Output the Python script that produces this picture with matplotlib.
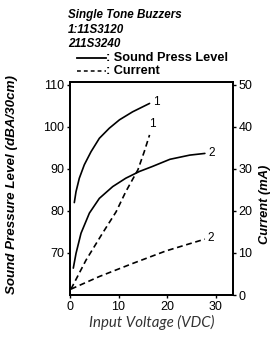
import matplotlib
matplotlib.use("Agg")
import matplotlib.pyplot as plt
from matplotlib.lines import Line2D

# data
spl1_v = [0.89, 1.24, 1.92, 2.95, 4.33, 6.05, 8.1, 10.2, 12.9, 16.4]
spl1_db = [82.0, 84.6, 87.8, 91.0, 94.1, 97.3, 99.7, 101.7, 103.6, 105.6]
spl2_v = [0.68, 1.24, 2.27, 4.0, 6.05, 8.8, 11.5, 14.3, 17.0, 20.6, 24.7, 27.8]
spl2_db = [66.4, 69.9, 74.7, 79.5, 83.0, 85.8, 87.8, 89.4, 90.6, 92.3, 93.3, 93.7]
cur1_v = [0.2, 3.3, 6.7, 9.5, 11.5, 14.0, 15.3, 16.4]
cur1_ma = [1.4, 8.3, 14.7, 19.8, 24.6, 29.8, 34.1, 38.1]
cur2_v = [0.2, 6.05, 12.9, 19.8, 27.8]
cur2_ma = [1.4, 4.4, 7.5, 10.5, 13.3]
x_ticks = [0, 10, 20, 30]
spl_ticks = [70, 80, 90, 100, 110]
cur_ticks = [0, 10, 20, 30, 40, 50]

W, H = 276, 337
fig = plt.figure(figsize=(W / 100, H / 100), dpi=100)
fam = ["Liberation Sans", "DejaVu Sans"]
plt.rcParams["font.family"] = fam

def px(x, y):
    return x / W, 1 - y / H

l, b = px(70, 295)
r, t = px(233, 82)
ax = fig.add_axes([l, b, r - l, t - b])
ax2 = ax.twinx()

lw = 1.2
ax.plot(spl1_v, spl1_db, color="black", lw=lw, solid_capstyle="round", solid_joinstyle="round")
ax.plot(spl2_v, spl2_db, color="black", lw=lw, solid_capstyle="round", solid_joinstyle="round")
ax2.plot(cur1_v, cur1_ma, color="black", lw=lw, dashes=(3.5, 2.2))
ax2.plot(cur2_v, cur2_ma, color="black", lw=lw, dashes=(3.5, 2.2))

ax.text(17.2, 106.0, "1", fontsize=8.5, ha="left", va="center")
ax.text(28.5, 93.9, "2", fontsize=8.5, ha="left", va="center")
ax2.text(16.9, 40.8, "1", fontsize=8.5, ha="center", va="center")
ax2.text(28.3, 13.6, "2", fontsize=8.5, ha="left", va="center")

ax.set_xlim(0, 33.6)
ax.set_ylim(60, 110.7)
ax2.set_ylim(0, 50.7)
ax.set_xticks(x_ticks)
ax.set_xticklabels([str(v) for v in x_ticks])
ax.set_yticks(spl_ticks)
ax.set_yticklabels([str(v) for v in spl_ticks])
ax2.set_yticks(cur_ticks)
ax2.set_yticklabels([str(v) for v in cur_ticks])

for a in (ax, ax2):
    for s in a.spines.values():
        s.set_linewidth(1.3)
    a.tick_params(direction="out", length=2.5, width=1.0, labelsize=9, pad=1.5)

ax.set_xlabel("Input Voltage (VDC)", fontsize=10.8, style="italic",
              family=["Lato", "DejaVu Sans"], color="#333333", labelpad=2)
ax.set_ylabel("Sound Pressure Level (dBA/30cm)", fontsize=9.6, style="italic",
              weight="bold", va="center")
ax.yaxis.set_label_coords((12 - 70) / 163, (295 - 185) / 213)
ax2.set_ylabel("Current (mA)", fontsize=9.3, style="italic", weight="bold", va="center")
ax2.yaxis.set_label_coords((265 - 70) / 163, (295 - 204) / 213)

# header block
for txt, y in [("Single Tone Buzzers", 15), ("1:11S3120", 30), ("211S3240", 44)]:
    x0, y0 = px(68, y)
    fig.text(x0, y0, txt, fontsize=8.4, style="italic", weight="bold", va="center", ha="left")

xa, ya = px(77, 58)
xb, _ = px(106, 58)
fig.add_artist(Line2D([xa, xb], [ya, ya], color="black", lw=1.3, transform=fig.transFigure))
fig.text(xb, ya, ": Sound Press Level", fontsize=9.2, weight="bold", va="center", ha="left")
xa, ya = px(77, 71)
fig.add_artist(Line2D([xa, xb], [ya, ya], color="black", lw=1.1, dashes=(2.5, 2.0),
                      transform=fig.transFigure))
fig.text(xb, ya, ": Current", fontsize=9.2, weight="bold", va="center", ha="left")

fig.savefig("out.png", dpi=100)
